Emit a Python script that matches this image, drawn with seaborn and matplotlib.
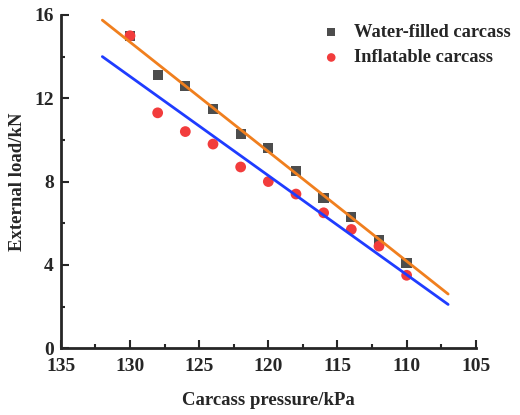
import pandas as pd
import matplotlib
matplotlib.use("Agg")
import matplotlib.pyplot as plt
from matplotlib.ticker import MultipleLocator
import seaborn as sns

pressure = [130, 128, 126, 124, 122, 120, 118, 116, 114, 112, 110]
water_load = [15.0, 13.1, 12.6, 11.5, 10.3, 9.6, 8.5, 7.2, 6.3, 5.2, 4.1]
inflate_load = [15.0, 11.3, 10.4, 9.8, 8.7, 8.0, 7.4, 6.5, 5.7, 4.9, 3.5]

# fitted lines, read at their end points
fit_x = [132, 107]
water_fit = [15.75, 2.6]
inflate_fit = [14.0, 2.1]

sns.set_style("ticks")
plt.rcParams["font.family"] = ["Liberation Serif", "DejaVu Serif"]
plt.rcParams["font.weight"] = "bold"

fig = plt.figure(figsize=(5.2, 4.15), dpi=100)
ax = fig.add_axes([0.117, 0.161, 0.798, 0.803])

df = pd.DataFrame({"x": pressure, "water": water_load, "inflate": inflate_load})
fits = pd.DataFrame({"x": fit_x, "water": water_fit, "inflate": inflate_fit})

sns.scatterplot(data=df, x="x", y="water", marker="s", s=55, color="#4d4d4d",
                edgecolor="none", label="Water-filled carcass", ax=ax, zorder=3)
sns.scatterplot(data=df, x="x", y="inflate", marker="o", s=60, color="#f23c3c",
                edgecolor="none", label="Inflatable carcass", ax=ax, zorder=4)
sns.lineplot(data=fits, x="x", y="water", color="#f07f1e", lw=2, ax=ax,
             zorder=5, legend=False)
sns.lineplot(data=fits, x="x", y="inflate", color="#1f3cff", lw=2, ax=ax,
             zorder=5, legend=False)

ax.set_xlim(135, 105)
ax.set_ylim(0, 16)
ax.xaxis.set_major_locator(MultipleLocator(5))
ax.xaxis.set_minor_locator(MultipleLocator(2.5))
ax.yaxis.set_major_locator(MultipleLocator(4))
ax.yaxis.set_minor_locator(MultipleLocator(2))
ax.tick_params(which="major", direction="in", length=6, width=1.5, labelsize=14)
ax.tick_params(which="minor", direction="in", length=3, width=1.5)
ax.tick_params(axis="x", which="major", pad=7)
ax.tick_params(axis="y", which="major", pad=5)
for s in ["left", "bottom"]:
    ax.spines[s].set_linewidth(2)
sns.despine(ax=ax)

ax.set_xlabel("Carcass pressure/kPa", fontsize=13.5, fontweight="bold", labelpad=12)
ax.set_ylabel("External load/kN", fontsize=13.5, fontweight="bold", labelpad=6)

leg = ax.legend(loc="upper left", bbox_to_anchor=(322 / 520, 1 - 24 / 415),
                bbox_transform=fig.transFigure, frameon=False,
                prop={"size": 13.3, "weight": "bold"}, handlelength=1.0,
                handletextpad=0.75, labelspacing=0.45, borderpad=0,
                borderaxespad=0, markerscale=0.8)

fig.savefig("out.png", dpi=100)
